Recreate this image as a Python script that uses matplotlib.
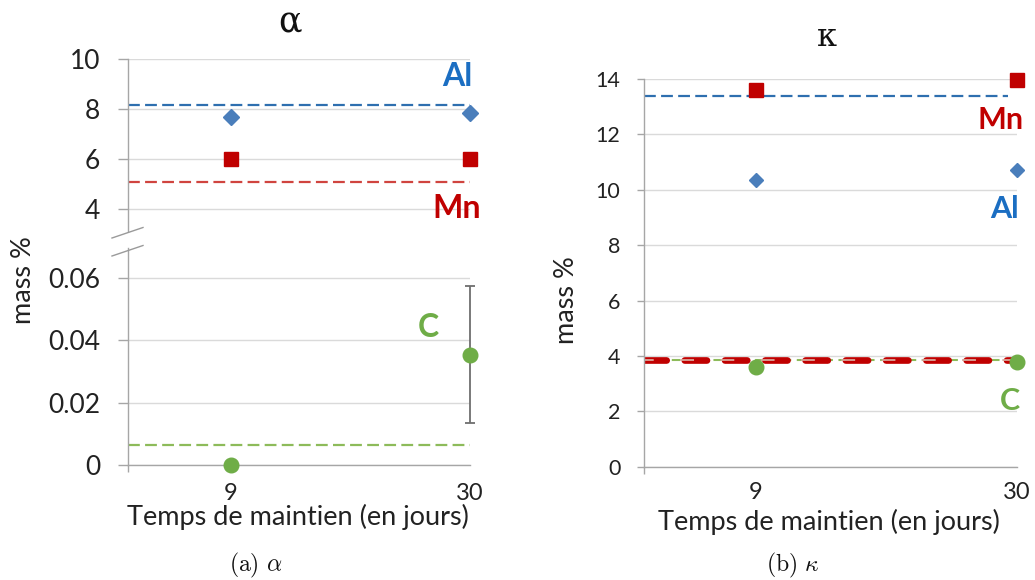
import matplotlib
matplotlib.use("Agg")
import matplotlib.pyplot as plt
from matplotlib.lines import Line2D

# ---------------- data ----------------
days = [9, 30]
day_labels = ["9", "30"]

alpha_Al = [7.67, 7.83]
alpha_Mn = [6.0, 6.0]
alpha_C = [0.0, 0.0353]
alpha_C_err = [0.0, 0.022]
alpha_ref_Al = 8.15
alpha_ref_Mn = 5.1
alpha_ref_C = 0.0065

kappa_Al = [10.35, 10.7]
kappa_Mn = [13.6, 13.97]
kappa_C = [3.59, 3.79]
kappa_ref_Al = 13.39
kappa_ref_Mn = 3.85
kappa_ref_C = 3.85

alpha_top_ticks = [4, 6, 8, 10]
alpha_bot_ticks = [0, 0.02, 0.04, 0.06]
alpha_bot_labels = ["0", "0.02", "0.04", "0.06"]
kappa_ticks = [0, 2, 4, 6, 8, 10, 12, 14]

# ---------------- style ----------------
plt.rcParams['font.family'] = ['Lato', 'DejaVu Sans']
plt.rcParams['lines.scale_dashes'] = False
plt.rcParams['mathtext.fontset'] = 'cm'

C_AL = '#4A7EBB'
C_MN = '#C00000'
C_C = '#6FAD47'
C_AL_TXT = '#1B6EC2'
C_AL_LINE = '#2E6FAF'
C_MN_LINE = '#D0443F'
C_C_LINE = '#8DBB5A'
GRID = '#DADADA'
SPINE = '#A6A6A6'
TXT = '#222222'

W, H = 1035, 580
fig = plt.figure(figsize=(W / 100, H / 100), dpi=100)


def px_axes(left, right, top, bottom):
    return fig.add_axes([left / W, 1 - bottom / H, (right - left) / W, (bottom - top) / H])


def style(ax, ticksize, ypad, ylen):
    for s in ('top', 'right'):
        ax.spines[s].set_visible(False)
    for s in ('left', 'bottom'):
        ax.spines[s].set_color(SPINE)
        ax.spines[s].set_linewidth(1.0)
    ax.grid(axis='y', color=GRID, lw=1.0)
    ax.set_axisbelow(True)
    ax.tick_params(axis='y', length=ylen, width=1.0, color=SPINE, pad=ypad,
                   labelsize=ticksize, labelcolor=TXT)
    ax.set_xlim(0, 30)


dash_blue = (0, (8.5, 3.8))

# ---------------- left panel (alpha) ----------------
axT = px_axes(128, 470, 59, 231)
axB = px_axes(128, 470, 248, 465)
style(axT, 19, 13, 7)
style(axB, 19, 13, 7)

axT.set_ylim(3.12, 10)
axT.set_yticks(alpha_top_ticks)
axT.spines['bottom'].set_visible(False)
axT.set_xticks([])

axT.axhline(alpha_ref_Al, color=C_AL_LINE, lw=1.6, ls=dash_blue)
axT.axhline(alpha_ref_Mn, color=C_MN_LINE, lw=1.6, ls=dash_blue)
axT.plot(days, alpha_Al, ls='none', marker='D', ms=7.8, color=C_AL, clip_on=False)
axT.plot(days, alpha_Mn, ls='none', marker='s', ms=10.5, color=C_MN, clip_on=False)
axT.text(28.9, 9.28, 'Al', color=C_AL_TXT, fontsize=23, fontweight='bold',
         ha='center', va='center')
axT.text(28.8, 4.0, 'Mn', color=C_MN, fontsize=23, fontweight='bold',
         ha='center', va='center')

axB.set_ylim(0, 0.0695)
axB.set_yticks(alpha_bot_ticks)
axB.set_yticklabels(alpha_bot_labels)
axB.axhline(alpha_ref_C, color=C_C_LINE, lw=1.6, ls=dash_blue)
axB.errorbar(days, alpha_C, yerr=alpha_C_err, ls='none', ecolor='#6E6E6E',
             elinewidth=1.3, capsize=3.5, capthick=1.3, zorder=3, clip_on=False)
axB.plot(days, alpha_C, ls='none', marker='o', ms=10.5, color=C_C, clip_on=False, zorder=4)
axB.text(26.3, 0.0439, 'C', color=C_C, fontsize=23, fontweight='bold',
         ha='center', va='center')
axB.set_xticks(days)
axB.set_xticklabels(day_labels)
axB.set_xticks([0, 30], minor=True)
axB.tick_params(axis='x', which='major', length=0, pad=13, labelsize=17, labelcolor=TXT)
axB.tick_params(axis='x', which='minor', length=5, width=1.0, color=SPINE)

# break marks
for yy in (238, 256):
    fig.add_artist(Line2D([112 / W, 143 / W], [1 - yy / H, 1 - (yy - 10.5) / H],
                          color='#9A9A9A', lw=1.0))

fig.text(298 / W, 1 - 517 / H, 'Temps de maintien (en jours)', fontsize=19.5,
         color=TXT, ha='center', va='center')
fig.text(24 / W, 1 - 280 / H, 'mass %', fontsize=19.5, color=TXT, rotation=90,
         ha='center', va='center')
fig.text(290 / W, 1 - 22 / H, 'α', fontsize=25, family='DejaVu Serif',
         color='#111111', ha='center', va='center')
fig.text(256 / W, 1 - 565 / H, r'$\mathrm{(a)}\ \alpha$', fontsize=17,
         color='#111111', ha='center', va='center')

# ---------------- right panel (kappa) ----------------
axK = px_axes(644, 1017, 79, 466.7)
style(axK, 15.5, 12, 5)
axK.set_ylim(0, 14)
axK.set_yticks(kappa_ticks)
axK.axhline(kappa_ref_Al, xmax=0.975, color=C_AL_LINE, lw=1.6, ls=dash_blue)
axK.axhline(kappa_ref_C, color=C_C_LINE, lw=1.5, ls=(0, (6, 4)), zorder=2)
axK.axhline(kappa_ref_Mn, color=C_MN, lw=4.8, ls=(0, (16, 13)), zorder=2.1,
            solid_capstyle='round', dash_capstyle='round')
axK.axhline(kappa_ref_Mn, color='#D9A79A', lw=1.3, ls=(3, (10, 19)), zorder=2.2)
axK.plot(days, kappa_Al, ls='none', marker='D', ms=7.2, color=C_AL, clip_on=False)
axK.plot(days, kappa_Mn, ls='none', marker='s', ms=10.5, color=C_MN, clip_on=False)
axK.plot(days, kappa_C, ls='none', marker='o', ms=10.5, color=C_C, clip_on=False, zorder=4)
axK.text(28.7, 12.52, 'Mn', color=C_MN, fontsize=22, fontweight='bold',
         ha='center', va='center')
axK.text(28.96, 9.31, 'Al', color=C_AL_TXT, fontsize=22, fontweight='bold',
         ha='center', va='center')
axK.text(29.4, 2.38, 'C', color=C_C, fontsize=22, fontweight='bold',
         ha='center', va='center')
axK.set_xticks(days)
axK.set_xticklabels(day_labels)
axK.set_xticks([0, 30], minor=True)
axK.tick_params(axis='x', which='major', length=0, pad=11, labelsize=17, labelcolor=TXT)
axK.tick_params(axis='x', which='minor', length=5, width=1.0, color=SPINE)

fig.text(829 / W, 1 - 522 / H, 'Temps de maintien (en jours)', fontsize=19.5,
         color=TXT, ha='center', va='center')
fig.text(567 / W, 1 - 300 / H, 'mass %', fontsize=19.5, color=TXT, rotation=90,
         ha='center', va='center')
fig.text(827 / W, 1 - 38 / H, 'κ', fontsize=23, family='DejaVu Serif',
         color='#111111', ha='center', va='center')
fig.text(793 / W, 1 - 565 / H, r'$\mathrm{(b)}\ \kappa$', fontsize=17,
         color='#111111', ha='center', va='center')

fig.savefig('out.png', dpi=100)
